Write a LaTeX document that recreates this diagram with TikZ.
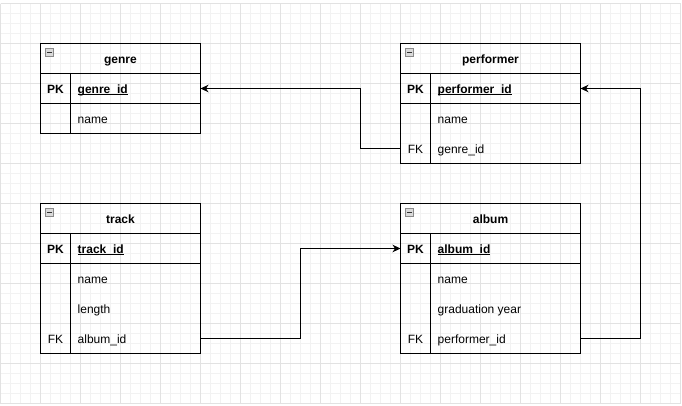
\documentclass[tikz,border=0pt]{standalone}
\usepackage{fontspec}
\setmainfont{Liberation Sans}
\usepackage{tikz}
\usetikzlibrary{arrows.meta}

\definecolor{gridminor}{HTML}{F2F2F2}
\definecolor{gridmajor}{HTML}{E2E2E2}
\definecolor{boxfill}{HTML}{DADADA}
\definecolor{boxline}{HTML}{8A8A8A}

\newcommand\dsize{\fontsize{12}{14}\selectfont}
\newcommand\keyline[1]{\setbox0\hbox{#1}\rlap{\rule[-1.6pt]{\wd0}{0.9pt}}\box0}

\begin{document}
\begin{tikzpicture}[x=1pt,y=-1pt,
  tblline/.style={draw, line width=1pt},
  cell/.style={inner sep=0pt, outer sep=0pt, minimum height=30pt, anchor=north west},
  txt/.style={inner sep=0pt, text height=9pt, text depth=0pt, font=\dsize},
  keytxt/.style={txt, font=\dsize\bfseries},
  headbox/.style={cell, tblline, txt, font=\dsize\bfseries},
  minbox/.style={draw=boxline, fill=boxfill, line width=0.8pt, minimum size=7.5pt, inner sep=0pt,
    path picture={\draw[line width=1pt, black!80] ([xshift=-2.2pt]path picture bounding box.center)
      -- ([xshift=2.2pt]path picture bounding box.center);}},
  link/.style={line width=1pt, -{Stealth[length=8pt,width=7.5pt,inset=2.5pt]}}]
\useasboundingbox (0,0) rectangle (682,405);
\fill[white] (0,0) rectangle (682,405);
\begin{scope}[shift={(0.5,0.5)}]
% grid
\foreach \x in {0,10,...,680} \draw[gridminor, line width=1pt] (\x,3) -- (\x,403);
\foreach \y in {3,13,...,403} \draw[gridminor, line width=1pt] (0,\y) -- (680,\y);
\foreach \x in {0,40,...,680} \draw[gridmajor, line width=1pt] (\x,3) -- (\x,403);
\foreach \y in {3,43,...,403} \draw[gridmajor, line width=1pt] (0,\y) -- (680,\y);

% genre
\node[headbox, minimum width=160] (genre) at (40,43) {genre};
\node[minbox] (genre-min) at ([xshift=9pt,yshift=-9pt]genre.north west) {};
\node[cell, tblline, minimum width=160] (genre-pk) at (40,73) {};
\node[keytxt] (genre-pk-k) at ([xshift=15pt]genre-pk.west) {PK};
\node[keytxt, anchor=west] (genre-pk-f) at ([xshift=37pt]genre-pk.west) {\keyline{genre\_id}};
\foreach \k/\f [count=\i] in {{}/name} {
  \node[cell, minimum width=160] (genre-\i) at (40,{73+30*\i}) {};
  \node[txt] (genre-\i-k) at ([xshift=15pt]genre-\i.west) {\k};
  \node[txt, anchor=west] (genre-\i-f) at ([xshift=37pt]genre-\i.west) {\f};
}
\draw[tblline] (genre-1.north west) rectangle (genre-1.south east);
\draw[tblline] ([xshift=30pt]genre-pk.north west) -- ([xshift=30pt]genre-1.south west);

% performer
\node[headbox, minimum width=180] (perf) at (400,43) {performer};
\node[minbox] (perf-min) at ([xshift=9pt,yshift=-9pt]perf.north west) {};
\node[cell, tblline, minimum width=180] (perf-pk) at (400,73) {};
\node[keytxt] (perf-pk-k) at ([xshift=15pt]perf-pk.west) {PK};
\node[keytxt, anchor=west] (perf-pk-f) at ([xshift=37pt]perf-pk.west) {\keyline{performer\_id}};
\foreach \k/\f [count=\i] in {{}/name, FK/genre\_id} {
  \node[cell, minimum width=180] (perf-\i) at (400,{73+30*\i}) {};
  \node[txt] (perf-\i-k) at ([xshift=15pt]perf-\i.west) {\k};
  \node[txt, anchor=west] (perf-\i-f) at ([xshift=37pt]perf-\i.west) {\f};
}
\draw[tblline] (perf-1.north west) rectangle (perf-2.south east);
\draw[tblline] ([xshift=30pt]perf-pk.north west) -- ([xshift=30pt]perf-2.south west);

% track
\node[headbox, minimum width=160] (track) at (40,203) {track};
\node[minbox] (track-min) at ([xshift=9pt,yshift=-9pt]track.north west) {};
\node[cell, tblline, minimum width=160] (track-pk) at (40,233) {};
\node[keytxt] (track-pk-k) at ([xshift=15pt]track-pk.west) {PK};
\node[keytxt, anchor=west] (track-pk-f) at ([xshift=37pt]track-pk.west) {\keyline{track\_id}};
\foreach \k/\f [count=\i] in {{}/name, {}/length, FK/album\_id} {
  \node[cell, minimum width=160] (track-\i) at (40,{233+30*\i}) {};
  \node[txt] (track-\i-k) at ([xshift=15pt]track-\i.west) {\k};
  \node[txt, anchor=west] (track-\i-f) at ([xshift=37pt]track-\i.west) {\f};
}
\draw[tblline] (track-1.north west) rectangle (track-3.south east);
\draw[tblline] ([xshift=30pt]track-pk.north west) -- ([xshift=30pt]track-3.south west);

% album
\node[headbox, minimum width=180] (album) at (400,203) {album};
\node[minbox] (album-min) at ([xshift=9pt,yshift=-9pt]album.north west) {};
\node[cell, tblline, minimum width=180] (album-pk) at (400,233) {};
\node[keytxt] (album-pk-k) at ([xshift=15pt]album-pk.west) {PK};
\node[keytxt, anchor=west] (album-pk-f) at ([xshift=37pt]album-pk.west) {\keyline{album\_id}};
\foreach \k/\f [count=\i] in {{}/name, {}/graduation year, FK/performer\_id} {
  \node[cell, minimum width=180] (album-\i) at (400,{233+30*\i}) {};
  \node[txt] (album-\i-k) at ([xshift=15pt]album-\i.west) {\k};
  \node[txt, anchor=west] (album-\i-f) at ([xshift=37pt]album-\i.west) {\f};
}
\draw[tblline] (album-1.north west) rectangle (album-3.south east);
\draw[tblline] ([xshift=30pt]album-pk.north west) -- ([xshift=30pt]album-3.south west);

% relations
\draw[link] (perf-2.west) -- ++(-40,0) |- (genre-pk.east);
\draw[link] (track-3.east) -- ++(100,0) |- (album-pk.west);
\draw[link] (album-3.east) -- ++(60,0) |- (perf-pk.east);
\end{scope}
\end{tikzpicture}
\end{document}
